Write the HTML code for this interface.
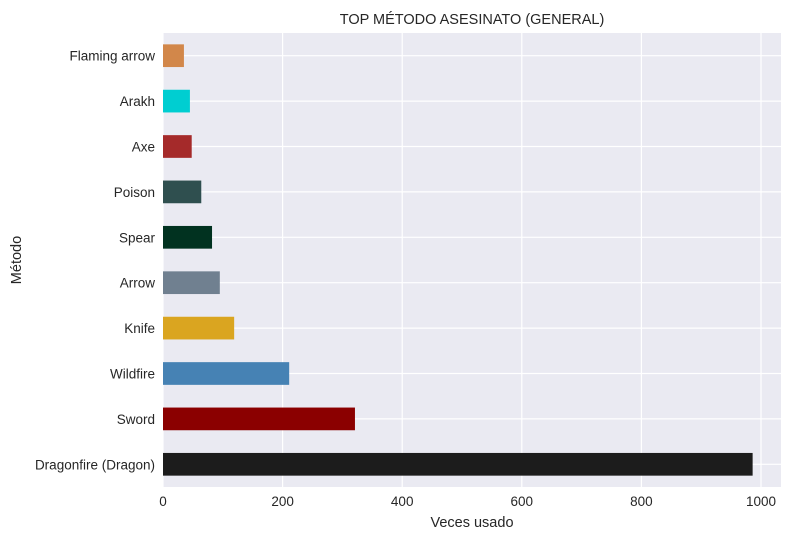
<!DOCTYPE html>
<html><head><meta charset="utf-8"><style>
body{margin:0;background:#fff;font-family:"Liberation Sans",Arial,sans-serif}
</style></head><body>
<svg width="790" height="540" id="c" xmlns="http://www.w3.org/2000/svg" font-family="Liberation Sans, Arial, sans-serif">
<rect x="0" y="0" width="790" height="540" fill="#fff"/>
<rect x="163" y="33" width="618" height="454" fill="#eaeaf2"/>
<g id="grid"></g><g id="bars"></g><g id="labels"></g>
<text x="472" y="24" text-anchor="middle" font-size="14.5" fill="#262626">TOP MÉTODO ASESINATO (GENERAL)</text>
<text x="472" y="527" text-anchor="middle" font-size="14.5" fill="#262626">Veces usado</text>
<text x="21" y="260" text-anchor="middle" font-size="14.5" fill="#262626" transform="rotate(-90 21 260)">Método</text>
</svg>
<script>
const categories=["Dragonfire (Dragon)","Sword","Wildfire","Knife","Arrow","Spear","Poison","Axe","Arakh","Flaming arrow"];
const values=[986,321,211,119,95,82,64,48,45,35];
const colors=["#1c1c1c","#8b0000","#4682b4","#daa520","#708090","#013220","#2f4f4f","#a52a2a","#00ced1","#d2874a"];
const xTicks=[0,200,400,600,800,1000];
const L=163,R=781,T=33,B=487,X0=163,K=0.598;
const NS="http://www.w3.org/2000/svg";
const x=v=>X0+v*K;
const step=(B-T)/categories.length;
const y=i=>B-step*(i+0.5);
const g=document.getElementById('grid'),b=document.getElementById('bars'),lb=document.getElementById('labels');
function mk(tag,attrs,parent){const e=document.createElementNS(NS,tag);for(const k in attrs)e.setAttribute(k,attrs[k]);parent.appendChild(e);return e;}
xTicks.forEach(t=>{
 const l=mk('line',{x1:x(t),x2:x(t),y1:T,y2:B,stroke:'#fff','stroke-width':1.2},g);
 
 
 const tx=mk('text',{x:x(t),y:B+19,'text-anchor':'middle','font-size':13.5,fill:'#262626'},lb);
 tx.textContent=t;
 
 
});
categories.forEach((c,i)=>{
 const l=mk('line',{x1:L,x2:R,y1:y(i),y2:y(i),stroke:'#fff','stroke-width':1.2},g);
 
 
 const r=mk('rect',{x:x(0),y:y(i)-step*0.25,width:x(values[i])-x(0),height:step*0.5,fill:colors[i]},b);
 
 
 const tx=mk('text',{x:L-8,y:y(i)+5,'text-anchor':'end','font-size':13.5,fill:'#262626'},lb);
 tx.textContent=c;
 
 
});
</script>
</body></html>
